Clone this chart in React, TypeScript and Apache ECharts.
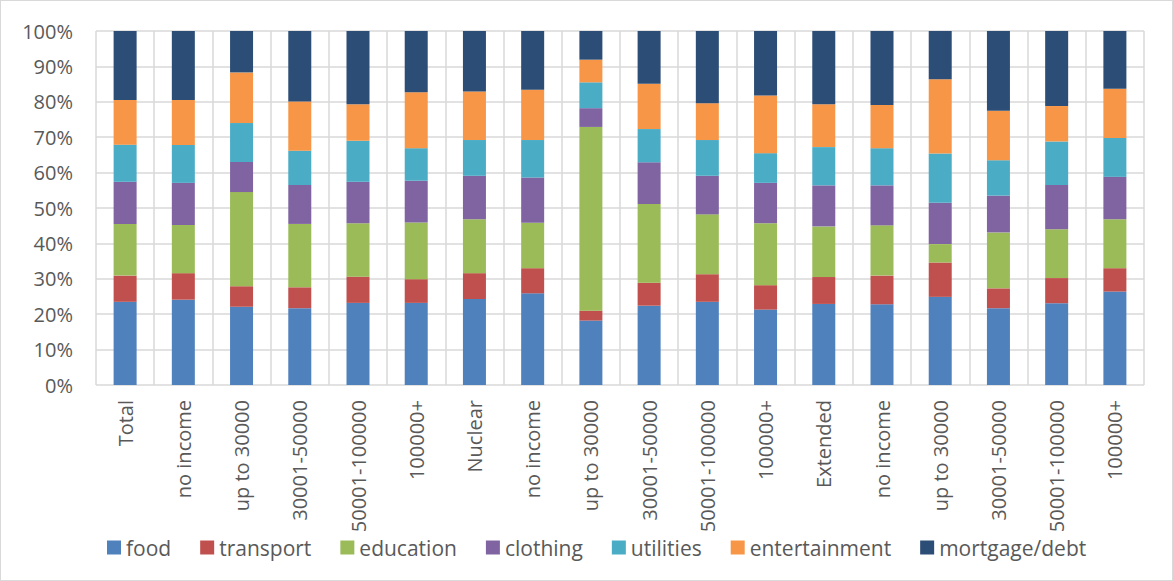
import React, { useEffect, useRef } from "react";
import * as echarts from "echarts";

// Household spending shares (%) by household type and income band
const categories = [
  "Total", "no income", "up to 30000", "30001-50000", "50001-100000", "100000+",
  "Nuclear", "no income", "up to 30000", "30001-50000", "50001-100000", "100000+",
  "Extended", "no income", "up to 30000", "30001-50000", "50001-100000", "100000+",
];

const food = [23.5, 24.1, 22.1, 21.7, 23.2, 23.2, 24.3, 25.9, 18.2, 22.4, 23.5, 21.3, 22.9, 22.8, 24.9, 21.7, 23.1, 26.4];
const transport = [7.4, 7.5, 5.8, 5.9, 7.4, 6.7, 7.3, 7.1, 2.8, 6.5, 7.8, 6.9, 7.6, 8.1, 9.7, 5.6, 7.1, 6.6];
const education = [14.6, 13.6, 26.6, 17.9, 15.1, 16.0, 15.2, 12.8, 51.9, 22.2, 16.9, 17.5, 14.3, 14.2, 5.2, 15.8, 13.8, 13.8];
const clothing = [11.9, 11.9, 8.5, 11.0, 11.7, 11.8, 12.3, 12.8, 5.3, 11.8, 10.9, 11.4, 11.6, 11.3, 11.7, 10.4, 12.5, 12.0];
const utilities = [10.5, 10.7, 11.0, 9.7, 11.6, 9.2, 10.1, 10.6, 7.3, 9.4, 10.1, 8.4, 10.8, 10.5, 13.9, 10.0, 12.3, 11.0];
const entertainment = [12.6, 12.7, 14.3, 13.9, 10.3, 15.8, 13.7, 14.2, 6.4, 12.8, 10.4, 16.3, 12.1, 12.2, 21.0, 14.0, 10.0, 13.9];
const mortgageDebt = [19.5, 19.5, 11.7, 19.9, 20.7, 17.3, 17.1, 16.6, 8.1, 14.9, 20.4, 18.2, 20.7, 20.9, 13.6, 22.5, 21.2, 16.3];

const seriesDefs: { name: string; data: number[]; color: string }[] = [
  { name: "food", data: food, color: "#4F81BD" },
  { name: "transport", data: transport, color: "#C0504D" },
  { name: "education", data: education, color: "#9BBB59" },
  { name: "clothing", data: clothing, color: "#8064A2" },
  { name: "utilities", data: utilities, color: "#4BACC6" },
  { name: "entertainment", data: entertainment, color: "#F79646" },
  { name: "mortgage/debt", data: mortgageDebt, color: "#2C4D75" },
];

const FONT = "'Open Sans', 'Noto Sans', sans-serif";
const TEXT = "#595959";
const GRID = "#D9D9D9";

export default function App() {
  const ref = useRef<HTMLDivElement>(null);

  useEffect(() => {
    document.body.style.margin = "0";
    if (!ref.current) return;
    const chart = echarts.init(ref.current, null, { renderer: "svg" });
    chart.setOption({
      animation: false,
      backgroundColor: "#ffffff",
      grid: { left: 95, right: 28, top: 30, bottom: 195, containLabel: false },
      legend: {
        top: 536,
        left: 106,
        icon: "rect",
        itemWidth: 14,
        itemHeight: 14,
        itemGap: 29,
        padding: 0,
        textStyle: { color: TEXT, fontFamily: FONT, fontSize: 21 },
        data: seriesDefs.map((s) => s.name),
      },
      xAxis: {
        type: "category",
        data: categories,
        axisLine: { show: false },
        axisTick: { show: false },
        splitLine: { show: true, lineStyle: { color: GRID, width: 1.5 } },
        axisLabel: {
          rotate: 90,
          interval: 0,
          margin: 15,
          color: TEXT,
          fontFamily: FONT,
          fontSize: 20,
        },
      },
      yAxis: {
        type: "value",
        min: 0,
        max: 100,
        interval: 10,
        axisLine: { show: false },
        axisTick: { show: false },
        splitLine: { show: true, lineStyle: { color: GRID, width: 1.5 } },
        axisLabel: {
          formatter: "{value}%",
          margin: 23,
          color: TEXT,
          fontFamily: FONT,
          fontSize: 20,
        },
      },
      series: seriesDefs.map((s) => ({
        name: s.name,
        type: "bar",
        stack: "total",
        barWidth: 23,
        data: s.data,
        itemStyle: { color: s.color },
      })),
    });
    return () => chart.dispose();
  }, []);

  return (
    <div
      ref={ref}
      style={{
        width: 1173,
        height: 581,
        boxSizing: "border-box",
        border: "1px solid #D9D9D9",
      }}
    />
  );
}
